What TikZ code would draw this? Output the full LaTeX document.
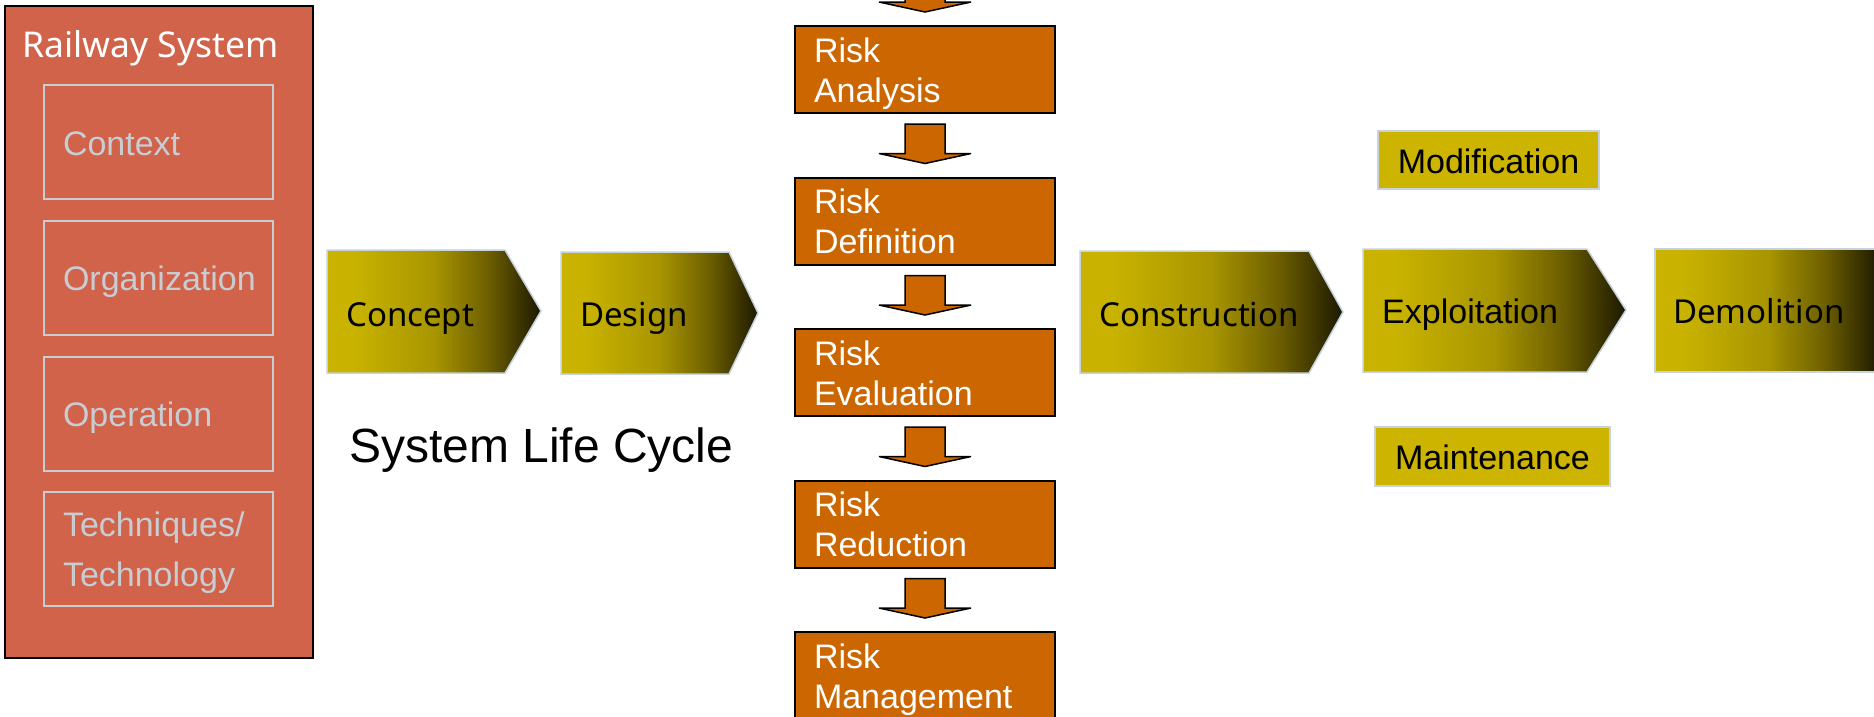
\documentclass[tikz,border=0pt]{standalone}
\usepackage{fontspec}
\setmainfont{Liberation Sans}
\newfontfamily\malgfont{Noto Sans}
\usetikzlibrary{calc}
\definecolor{rsred}{RGB}{208,99,74}
\definecolor{inngray}{RGB}{200,205,211}
\definecolor{riskor}{RGB}{204,102,0}
\definecolor{chevY}{RGB}{201,179,0}
\definecolor{chevM}{RGB}{168,149,0}
\definecolor{chevN}{RGB}{110,96,0}
\definecolor{chevD}{RGB}{28,24,0}
\definecolor{chevB}{RGB}{198,210,220}
\definecolor{boxY}{RGB}{204,180,0}
\pgfdeclarehorizontalshading{chevshade}{100bp}{color(0bp)=(chevY); color(31bp)=(chevY); color(50bp)=(chevM); color(62.5bp)=(chevN); color(75bp)=(chevD); color(100bp)=(chevD)}
\tikzset{
  railbox/.style={draw=black, line width=2pt, fill=rsred, minimum width=308pt, minimum height=652pt, inner sep=0pt},
  railtitle/.style={text=white, font=\malgfont\fontsize{35.5}{40}\selectfont, inner sep=0pt, anchor=base west},
  inbox/.style={draw=inngray, line width=2pt, text=inngray, minimum width=229pt, minimum height=114pt,
    inner xsep=19pt, inner ysep=0pt, text width=191pt, align=left, font=\fontsize{34}{50}\selectfont,
    text height=30pt, text depth=4pt},
  riskbox/.style={draw=black, line width=2pt, fill=riskor, text=white, minimum width=260pt, minimum height=87pt,
    inner xsep=19pt, inner ysep=0pt, text width=222pt, align=left, font=\fontsize{34}{40}\selectfont,
    text height=30pt, text depth=44.4pt},
  blockarr/.style={draw=black, line width=1.5pt, fill=riskor, line join=miter, miter limit=2},
  chev/.style={shade, shading=chevshade, draw=chevB, line width=1.5pt, line join=miter},
  chevtext/.style={font=\malgfont\fontsize{33}{36}\selectfont, text=black, inner sep=0pt, anchor=base west},
  chevtextb/.style={font=\fontsize{34}{36}\selectfont, text=black, inner sep=0pt, anchor=base west},
  ybox/.style={draw=chevB, line width=1.5pt, fill=boxY, text=black, font=\fontsize{34}{36}\selectfont,
    inner sep=0pt, text height=30pt, text depth=4pt},
  lifelabel/.style={font=\fontsize{48}{52}\selectfont, text=black, inner sep=0pt, anchor=base west}
}
\newcommand\blockarrow[2]{%
  \draw[blockarr] ($(#1)+(-20,10)$) -- ($(#1)+(20,10)$) -- ($(#2)+(20,-23)$) -- ($(#2)+(46,-23)$)
    -- ($(#2)+(0,-13)$) -- ($(#2)+(-46,-23)$) -- ($(#2)+(-20,-23)$) -- cycle;}
\begin{document}
\begin{tikzpicture}[x=1pt,y=-1pt]
\useasboundingbox (0,0) rectangle (1874,716);
\clip (0,0) rectangle (1874,716);
\fill[white] (0,0) rectangle (1874,716);

% Railway system
\node[railbox] (rail) at (159,332) {};
\node[railtitle] (railt) at (22,57) {Railway System};
\node[inbox] (ctx) at (158.5,142) {Context};
\node[inbox] (org) at (158.5,277.8) {Organization};
\node[inbox] (ope) at (158.5,413.6) {Operation};
\node[inbox, text depth=55pt] (tec) at (158.5,549.4) {Techniques/\\Technology};

% Life cycle chevrons
\path[chev] (327,250) -- (505,250) -- (541,311) -- (505,373) -- (327,373) -- cycle;
\node[chevtext] (concept) at (346,326) {Concept};
\path[chev] (561,252) -- (729,252) -- (758,313) -- (729,374) -- (561,374) -- cycle;
\node[chevtext] (design) at (580,326) {Design};
\path[chev] (1080,251) -- (1309,251) -- (1343,312) -- (1309,373) -- (1080,373) -- cycle;
\node[chevtext] (constr) at (1099,326) {Construction};
\path[chev] (1363,249) -- (1587,249) -- (1626,310) -- (1587,372) -- (1363,372) -- cycle;
\node[chevtextb] (exploit) at (1382,323) {Exploitation};
\shade[shading=chevshade] (1655,249) rectangle (1880,372);
\draw[chevB, line width=1.5pt, line join=miter] (1880,249) -- (1655,249) -- (1655,372) -- (1880,372);
\node[chevtext] (demol) at (1673,323) {Demolition};

\node[lifelabel] (slc) at (349,462) {System Life Cycle};

% Modification / Maintenance
\node[ybox, minimum width=221pt, minimum height=58pt] (modif) at (1488.5,160) {Modification};
\node[ybox, minimum width=235pt, minimum height=59pt] (maint) at (1492.5,456.5) {Maintenance};

% Risk chain
\coordinate (topin) at (925,-40);
\node[riskbox] (ra) at (925,69.5) {Risk\\Analysis};
\node[riskbox] (rd) at (925,221) {Risk\\Definition};
\node[riskbox] (re) at (925,372.5) {Risk\\Evaluation};
\node[riskbox] (rr) at (925,524) {Risk\\Reduction};
\node[riskbox] (rm) at (925,675.5) {Risk\\Management};
\blockarrow{topin}{ra.north}
\blockarrow{ra.south}{rd.north}
\blockarrow{rd.south}{re.north}
\blockarrow{re.south}{rr.north}
\blockarrow{rr.south}{rm.north}
\end{tikzpicture}
\end{document}
